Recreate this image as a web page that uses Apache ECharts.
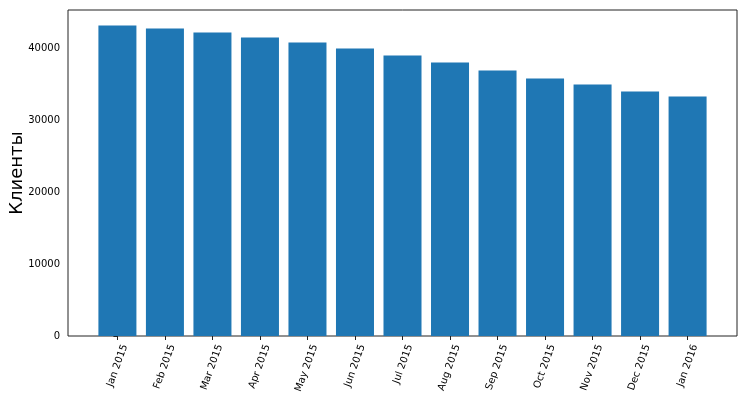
<!DOCTYPE html>
<html>
<head>
<meta charset="utf-8">
<script src="https://cdn.jsdelivr.net/npm/echarts@6/dist/echarts.min.js"></script>
<style>html,body{margin:0;padding:0;background:#fff;}#c{width:747px;height:400px;}</style>
</head>
<body>
<div id="c"></div>
<script>
const categories = ['Jan 2015','Feb 2015','Mar 2015','Apr 2015','May 2015','Jun 2015','Jul 2015','Aug 2015','Sep 2015','Oct 2015','Nov 2015','Dec 2015','Jan 2016'];
const clients = [43250, 42830, 42270, 41580, 40880, 40040, 39070, 38090, 36980, 35860, 35020, 34050, 33350];
const yTicks = [0, 10000, 20000, 30000, 40000];
const yName = 'Клиенты';

const gridLeft = 68, gridRight = 10, gridTop = 10, gridBottom = 64;
const plotW = 747 - gridLeft - gridRight;
const xMin = -0.5 - 0.54, xMax = categories.length - 0.5 + 0.54;
const pxPerUnit = plotW / (xMax - xMin);
const labelShift = 7.5 / pxPerUnit;
const idx = categories.map((c, i) => i);
const yMax = Math.max(...clients) * 1.05;

const chart = echarts.init(document.getElementById('c'), null, {renderer: 'canvas'});
chart.setOption({
  animation: false,
  backgroundColor: '#fff',
  textStyle: {fontFamily: 'DejaVu Sans'},
  grid: {left: gridLeft, right: gridRight, top: gridTop, bottom: gridBottom, containLabel: false, outerBoundsMode: 'none', show: true, borderColor: '#222', borderWidth: 1},
  xAxis: {
    type: 'value', min: xMin, max: xMax,
    axisLine: {show: false},
    splitLine: {show: false},
    axisTick: {show: true, length: 4, lineStyle: {color: '#222'}, customValues: idx},
    axisLabel: {
      customValues: idx.map(i => i + labelShift),
      formatter: v => categories[Math.round(v - labelShift)] || '',
      rotate: 70, margin: 9, fontSize: 10, color: '#000', fontFamily: 'DejaVu Sans',
      align: 'right', verticalAlign: 'middle'
    }
  },
  yAxis: {
    type: 'value', min: 0, max: yMax,
    name: yName, nameLocation: 'middle', nameGap: 42, nameRotate: 90, nameMoveOverlap: false,
    nameTextStyle: {fontSize: 18, color: '#000', fontFamily: 'DejaVu Sans'},
    axisLine: {show: false},
    splitLine: {show: false},
    axisTick: {show: true, length: 4, lineStyle: {color: '#222'}, customValues: yTicks},
    axisLabel: {customValues: yTicks, formatter: v => String(v), margin: 8, fontSize: 10, color: '#000', fontFamily: 'DejaVu Sans'}
  },
  series: [{
    type: 'bar',
    data: clients.map((v, i) => [i, v]),
    barWidth: 0.8 * pxPerUnit,
    itemStyle: {color: '#1f77b4', borderWidth: 0}
  }]
});
</script>
</body>
</html>
